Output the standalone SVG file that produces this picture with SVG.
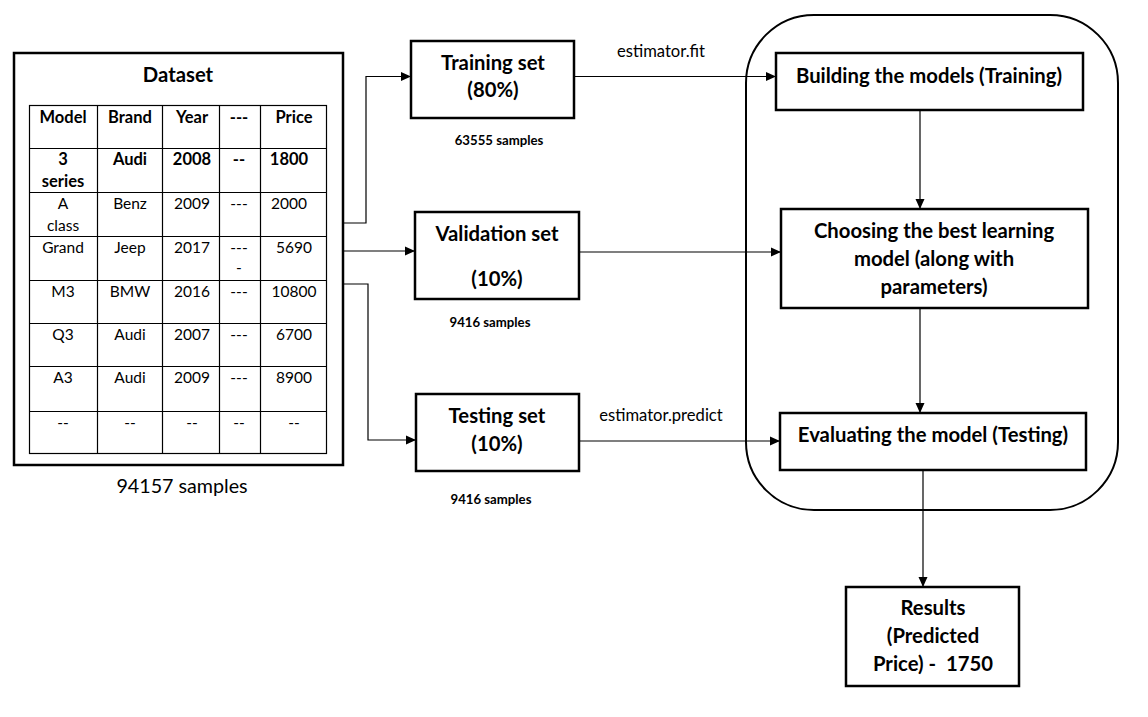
<svg xmlns="http://www.w3.org/2000/svg" width="1148" height="717" viewBox="0 0 1148 717">
<style>
text{font-family:Lato,"Open Sans","Liberation Sans",sans-serif;fill:#000;text-anchor:middle}
.h{font-size:20.3px;font-weight:bold}
.t{font-size:15.5px}
.tb{font-size:16.5px;font-weight:bold}
.s{font-size:13.2px;font-weight:bold}
.lbl{font-size:16.6px}
.box{fill:#fff;stroke:#000;stroke-width:2.5}
.grid{fill:none;stroke:#000;stroke-width:1.2}
.con{fill:none;stroke:#000;stroke-width:1.2}
</style>
<defs>
<marker id="arr" viewBox="0 0 10 10" refX="10" refY="5" markerWidth="10" markerHeight="10" markerUnits="userSpaceOnUse" orient="auto">
<path d="M0,0.5 L10,5 L0,9.5 Z" fill="#000"/>
</marker>
</defs>
<rect width="1148" height="717" fill="#fff"/>

<g id="pipeline-container">
<rect x="746" y="15" width="372" height="495" rx="68" ry="68" fill="none" stroke="#000" stroke-width="2"/>
</g>

<g id="dataset">
<rect class="box" x="14" y="53" width="329" height="412"/>
<text class="h" x="178" y="82">Dataset</text>
<g class="grid">
<rect x="29.5" y="105.5" width="297" height="348"/>
<path d="M97.5,105.5V453.5M162.5,105.5V453.5M219.5,105.5V453.5M260.5,105.5V453.5"/>
<path d="M29.5,148.5H326.5M29.5,192.5H326.5M29.5,236.5H326.5M29.5,280.5H326.5M29.5,323.5H326.5M29.5,366.5H326.5M29.5,411.5H326.5"/>
</g>
<text class="tb" x="63" y="123">Model</text>
<text class="tb" x="130" y="123">Brand</text>
<text class="tb" x="192" y="123">Year</text>
<text class="tb" x="239" y="123">---</text>
<text class="tb" x="294" y="123">Price</text>

<text class="tb" x="63" y="165">3</text>
<text class="tb" x="63" y="187">series</text>
<text class="tb" x="130" y="165">Audi</text>
<text class="tb" x="192" y="165">2008</text>
<text class="tb" x="239" y="165">--</text>
<text class="tb" x="289" y="165">1800</text>

<text class="t" x="63" y="209">A</text>
<text class="t" x="63" y="231">class</text>
<text class="t" x="130" y="209">Benz</text>
<text class="t" x="192" y="209">2009</text>
<text class="t" x="239" y="209">---</text>
<text class="t" x="289" y="209">2000</text>

<text class="t" x="63" y="253">Grand</text>
<text class="t" x="130" y="253">Jeep</text>
<text class="t" x="192" y="253">2017</text>
<text class="t" x="239" y="253">---</text>
<text class="t" x="239" y="273">-</text>
<text class="t" x="294" y="253">5690</text>

<text class="t" x="63" y="297">M3</text>
<text class="t" x="130" y="297">BMW</text>
<text class="t" x="192" y="297">2016</text>
<text class="t" x="239" y="297">---</text>
<text class="t" x="294" y="297">10800</text>

<text class="t" x="63" y="340">Q3</text>
<text class="t" x="130" y="340">Audi</text>
<text class="t" x="192" y="340">2007</text>
<text class="t" x="239" y="340">---</text>
<text class="t" x="294" y="340">6700</text>

<text class="t" x="63" y="383">A3</text>
<text class="t" x="130" y="383">Audi</text>
<text class="t" x="192" y="383">2009</text>
<text class="t" x="239" y="383">---</text>
<text class="t" x="294" y="383">8900</text>

<text class="t" x="63" y="428">--</text>
<text class="t" x="130" y="428">--</text>
<text class="t" x="192" y="428">--</text>
<text class="t" x="239" y="428">--</text>
<text class="t" x="294" y="428">--</text>
<text x="182" y="493" style="font-size:19.7px">94157 samples</text>
</g>

<g id="training-set">
<rect class="box" x="411" y="41" width="163" height="77"/>
<text class="h" x="493" y="70">Training set</text>
<text class="h" x="493" y="97">(80%)</text>
<text class="s" x="499" y="145">63555 samples</text>
</g>

<g id="validation-set">
<rect class="box" x="415" y="212" width="164" height="87"/>
<text class="h" x="497" y="241">Validation set</text>
<text class="h" x="497" y="286">(10%)</text>
<text class="s" x="490" y="327">9416 samples</text>
</g>

<g id="testing-set">
<rect class="box" x="416" y="394" width="163" height="77"/>
<text class="h" x="497" y="423">Testing set</text>
<text class="h" x="497" y="451">(10%)</text>
<text class="s" x="491" y="504">9416 samples</text>
</g>

<g id="building">
<rect class="box" x="776" y="53" width="307" height="57"/>
<text class="h" x="929" y="83">Building the models (Training)</text>
</g>

<g id="choosing">
<rect class="box" x="781" y="209" width="307" height="99"/>
<text class="h" x="934" y="238">Choosing the best learning</text>
<text class="h" x="934" y="266">model (along with</text>
<text class="h" x="934" y="294">parameters)</text>
</g>

<g id="evaluating">
<rect class="box" x="780" y="413" width="306" height="57"/>
<text class="h" x="933" y="442">Evaluating the model (Testing)</text>
</g>

<g id="results">
<rect class="box" x="846" y="587" width="173" height="99"/>
<text class="h" x="933" y="615">Results</text>
<text class="h" x="933" y="643">(Predicted</text>
<text class="h" x="933" y="671" xml:space="preserve" style="white-space:pre">Price) -  1750</text>
</g>

<g id="connectors">
<path class="con" d="M343,223H366V76.5H411" marker-end="url(#arr)"/>
<path class="con" d="M343,251H415" marker-end="url(#arr)"/>
<path class="con" d="M343,284H368V440H416" marker-end="url(#arr)"/>
<path class="con" d="M574,76.5H776" marker-end="url(#arr)"/>
<path class="con" d="M579,252H781" marker-end="url(#arr)"/>
<path class="con" d="M579,441H780" marker-end="url(#arr)"/>
<path class="con" d="M920,110V209" marker-end="url(#arr)"/>
<path class="con" d="M920,308V413" marker-end="url(#arr)"/>
<path class="con" d="M923,470V587" marker-end="url(#arr)"/>
<text class="lbl" x="661" y="57">estimator.fit</text>
<text class="lbl" x="661" y="421">estimator.predict</text>
</g>
</svg>
